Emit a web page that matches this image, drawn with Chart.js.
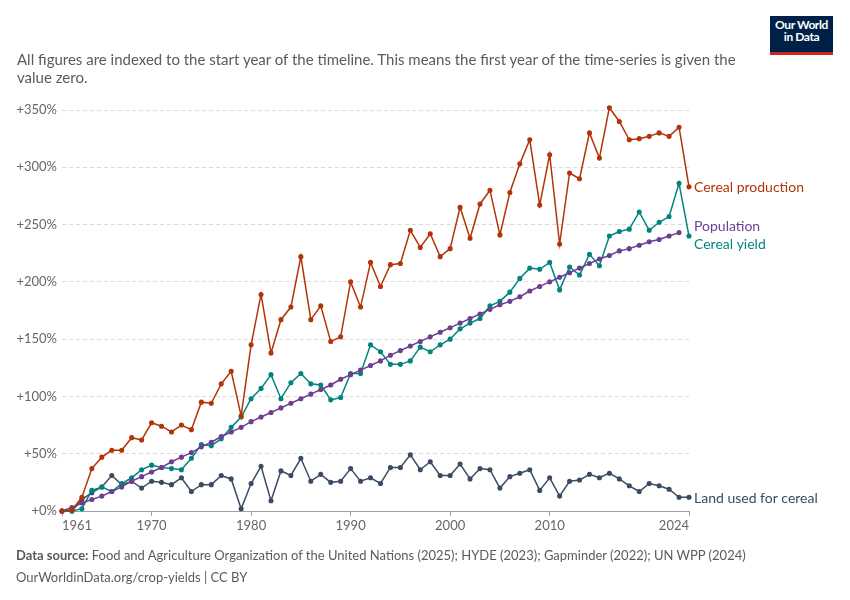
<!DOCTYPE html>
<html>
<head>
<meta charset="utf-8">
<script src="https://cdn.jsdelivr.net/npm/chart.js@4.4.1/dist/chart.umd.min.js"></script>
<style>
  html, body { margin: 0; padding: 0; background: #fff; }
  body { width: 850px; height: 600px; position: relative; overflow: hidden; font-family: Lato, "Noto Sans", sans-serif; }
  #chart { position: absolute; left: 0; top: 0; }
  .subtitle { position: absolute; left: 17px; top: 50px; font-size: 15px; line-height: 18px; color: #5b5b5b; }
  .logo { position: absolute; left: 770px; top: 16px; width: 63px; height: 33px; background: #002147; border-bottom: 3px solid #ce261e;
          color: #fff; font-size: 12px; font-weight: 700; line-height: 12px; text-align: center; letter-spacing: -0.4px; padding-top: 3px; box-sizing: content-box; }
  .footer { position: absolute; left: 16px; font-size: 13px; color: #5b5b5b; }
</style>
</head>
<body>
<canvas id="chart" width="850" height="600"></canvas>
<div class="logo">Our World<br>in Data</div>
<div class="subtitle">All figures are indexed to the start year of the timeline. This means the first year of the time-series is given the<br>value zero.</div>
<div class="footer" style="top:547px"><b>Data source:</b> Food and Agriculture Organization of the United Nations (2025); HYDE (2023); Gapminder (2022); UN WPP (2024)</div>
<div class="footer" style="top:569px">OurWorldinData.org/crop-yields | CC BY</div>
<script>
// years 1961-2024
const years = [];
for (let y = 1961; y <= 2024; y++) years.push(y);

const xTicks = [1961, 1970, 1980, 1990, 2000, 2010, 2024];
const yTicks = [0, 50, 100, 150, 200, 250, 300, 350];

// values, % change since 1961
const cerealProduction = [0, 1, 12, 37, 47, 53, 53, 64, 62, 77, 74, 69, 75, 71, 95, 94, 111, 122, 83, 145,
  189, 138, 167, 178, 222, 167, 179, 148, 152, 200, 178, 217, 196, 215, 216, 245, 230, 242, 222, 229,
  265, 238, 268, 280, 241, 278, 303, 324, 267, 311, 233, 295, 290, 330, 308, 352, 340, 324, 325, 327,
  330, 327, 335, 283];
const population = [0, 3, 7, 10, 13, 17, 21, 26, 30, 34, 38, 43, 47, 51, 56, 60, 65, 69, 73, 78,
  82, 86, 90, 94, 98, 102, 106, 110, 115, 119, 123, 127, 131, 136, 140, 144, 148, 152, 156, 160,
  164, 168, 172, 176, 180, 183, 187, 192, 196, 200, 204, 208, 212, 216, 220, 223, 227, 229, 232, 235,
  237, 240, 243];
const cerealYield = [0, 0, 2, 18, 21, 17, 24, 29, 36, 40, 38, 37, 36, 46, 58, 57, 63, 73, 82, 98,
  107, 119, 98, 112, 120, 111, 110, 97, 99, 120, 120, 145, 139, 128, 128, 131, 143, 139, 145, 150,
  159, 164, 168, 179, 183, 191, 203, 212, 211, 217, 193, 213, 206, 224, 214, 240, 244, 246, 261, 245,
  252, 257, 286, 240];
const landUsed = [0, 0, 10, 16, 21, 31, 23, 26, 20, 26, 25, 23, 29, 17, 23, 23, 31, 28, 2, 24,
  39, 9, 35, 31, 46, 26, 32, 25, 26, 37, 26, 29, 24, 38, 38, 49, 36, 43, 31, 31,
  41, 28, 37, 36, 20, 30, 33, 36, 18, 29, 13, 26, 27, 32, 29, 33, 28, 22, 17, 24,
  22, 19, 12, 12];

const seriesNames = ["Cereal production", "Population", "Cereal yield", "Land used for cereal"];
const seriesColors = ["#b13507", "#6d3e91", "#00847e", "#3b4b63"];
const seriesValues = [cerealProduction, population, cerealYield, landUsed];

const datasets = seriesNames.map((name, i) => ({
  label: name,
  data: seriesValues[i].map((v, j) => ({ x: years[j], y: v })),
  borderColor: seriesColors[i],
  backgroundColor: seriesColors[i],
  borderWidth: 1.5,
  pointRadius: 1.8,
  pointHoverRadius: 1.8,
  tension: 0,
  clip: false,
}));

// end-of-line labels with simple overlap avoidance
const endLabels = {
  id: "endLabels",
  afterDatasetsDraw(chart) {
    const ctx = chart.ctx;
    const xs = chart.scales.x, ys = chart.scales.y;
    const items = chart.data.datasets.map((ds) => {
      const last = ds.data[ds.data.length - 1];
      return { text: ds.label, color: ds.borderColor, y: ys.getPixelForValue(last.y) };
    }).sort((a, b) => a.y - b.y);
    const gap = 18;
    for (let k = 0; k < 10; k++) {
      for (let i = 1; i < items.length; i++) {
        const d = items[i].y - items[i - 1].y;
        if (d < gap) {
          const push = (gap - d) / 2;
          items[i - 1].y -= push;
          items[i].y += push;
        }
      }
    }
    ctx.save();
    ctx.font = "14px Lato";
    ctx.textBaseline = "middle";
    ctx.textAlign = "left";
    items.forEach((it) => {
      ctx.fillStyle = it.color;
      ctx.fillText(it.text, xs.right + 5, it.y + 1);
    });
    ctx.restore();
  }
};

function draw() {
  new Chart(document.getElementById("chart").getContext("2d"), {
    type: "line",
    data: { datasets },
    options: {
      responsive: false,
      animation: false,
      events: [],
      layout: { padding: { left: 0, right: 161, top: 110, bottom: 64 } },
      plugins: { legend: { display: false }, tooltip: { enabled: false } },
      scales: {
        x: {
          type: "linear",
          min: 1961,
          max: 2024,
          afterBuildTicks: (s) => { s.ticks = xTicks.map((v) => ({ value: v })); },
          afterFit: (s) => { s.height = 25; },
          grid: { drawOnChartArea: false, drawTicks: true, tickLength: 5, color: "#a0a0a0" },
          border: { display: true, color: "#a0a0a0", width: 1 },
          ticks: {
            align: "inner",
            maxRotation: 0,
            autoSkip: false,
            padding: 2,
            color: "#666",
            font: { family: "Lato", size: 13 },
            callback: (v) => String(v),
          },
        },
        y: {
          min: 0,
          max: 350,
          afterBuildTicks: (s) => { s.ticks = yTicks.map((v) => ({ value: v })); },
          afterFit: (s) => { s.width = 62; },
          grid: {
            drawTicks: false,
            color: (c) => (c.tick && c.tick.value === 0 ? "rgba(0,0,0,0)" : "#dadada"),
            lineWidth: 1,
            borderDash: [4, 3],
          },
          border: { display: false, dash: [4, 3] },
          ticks: {
            padding: 5,
            color: "#666",
            font: { family: "Lato", size: 13 },
            callback: (v) => "+" + v + "%",
          },
        },
      },
    },
    plugins: [endLabels],
  });
}

document.fonts.load("14px Lato").then(draw, draw);
</script>
</body>
</html>
